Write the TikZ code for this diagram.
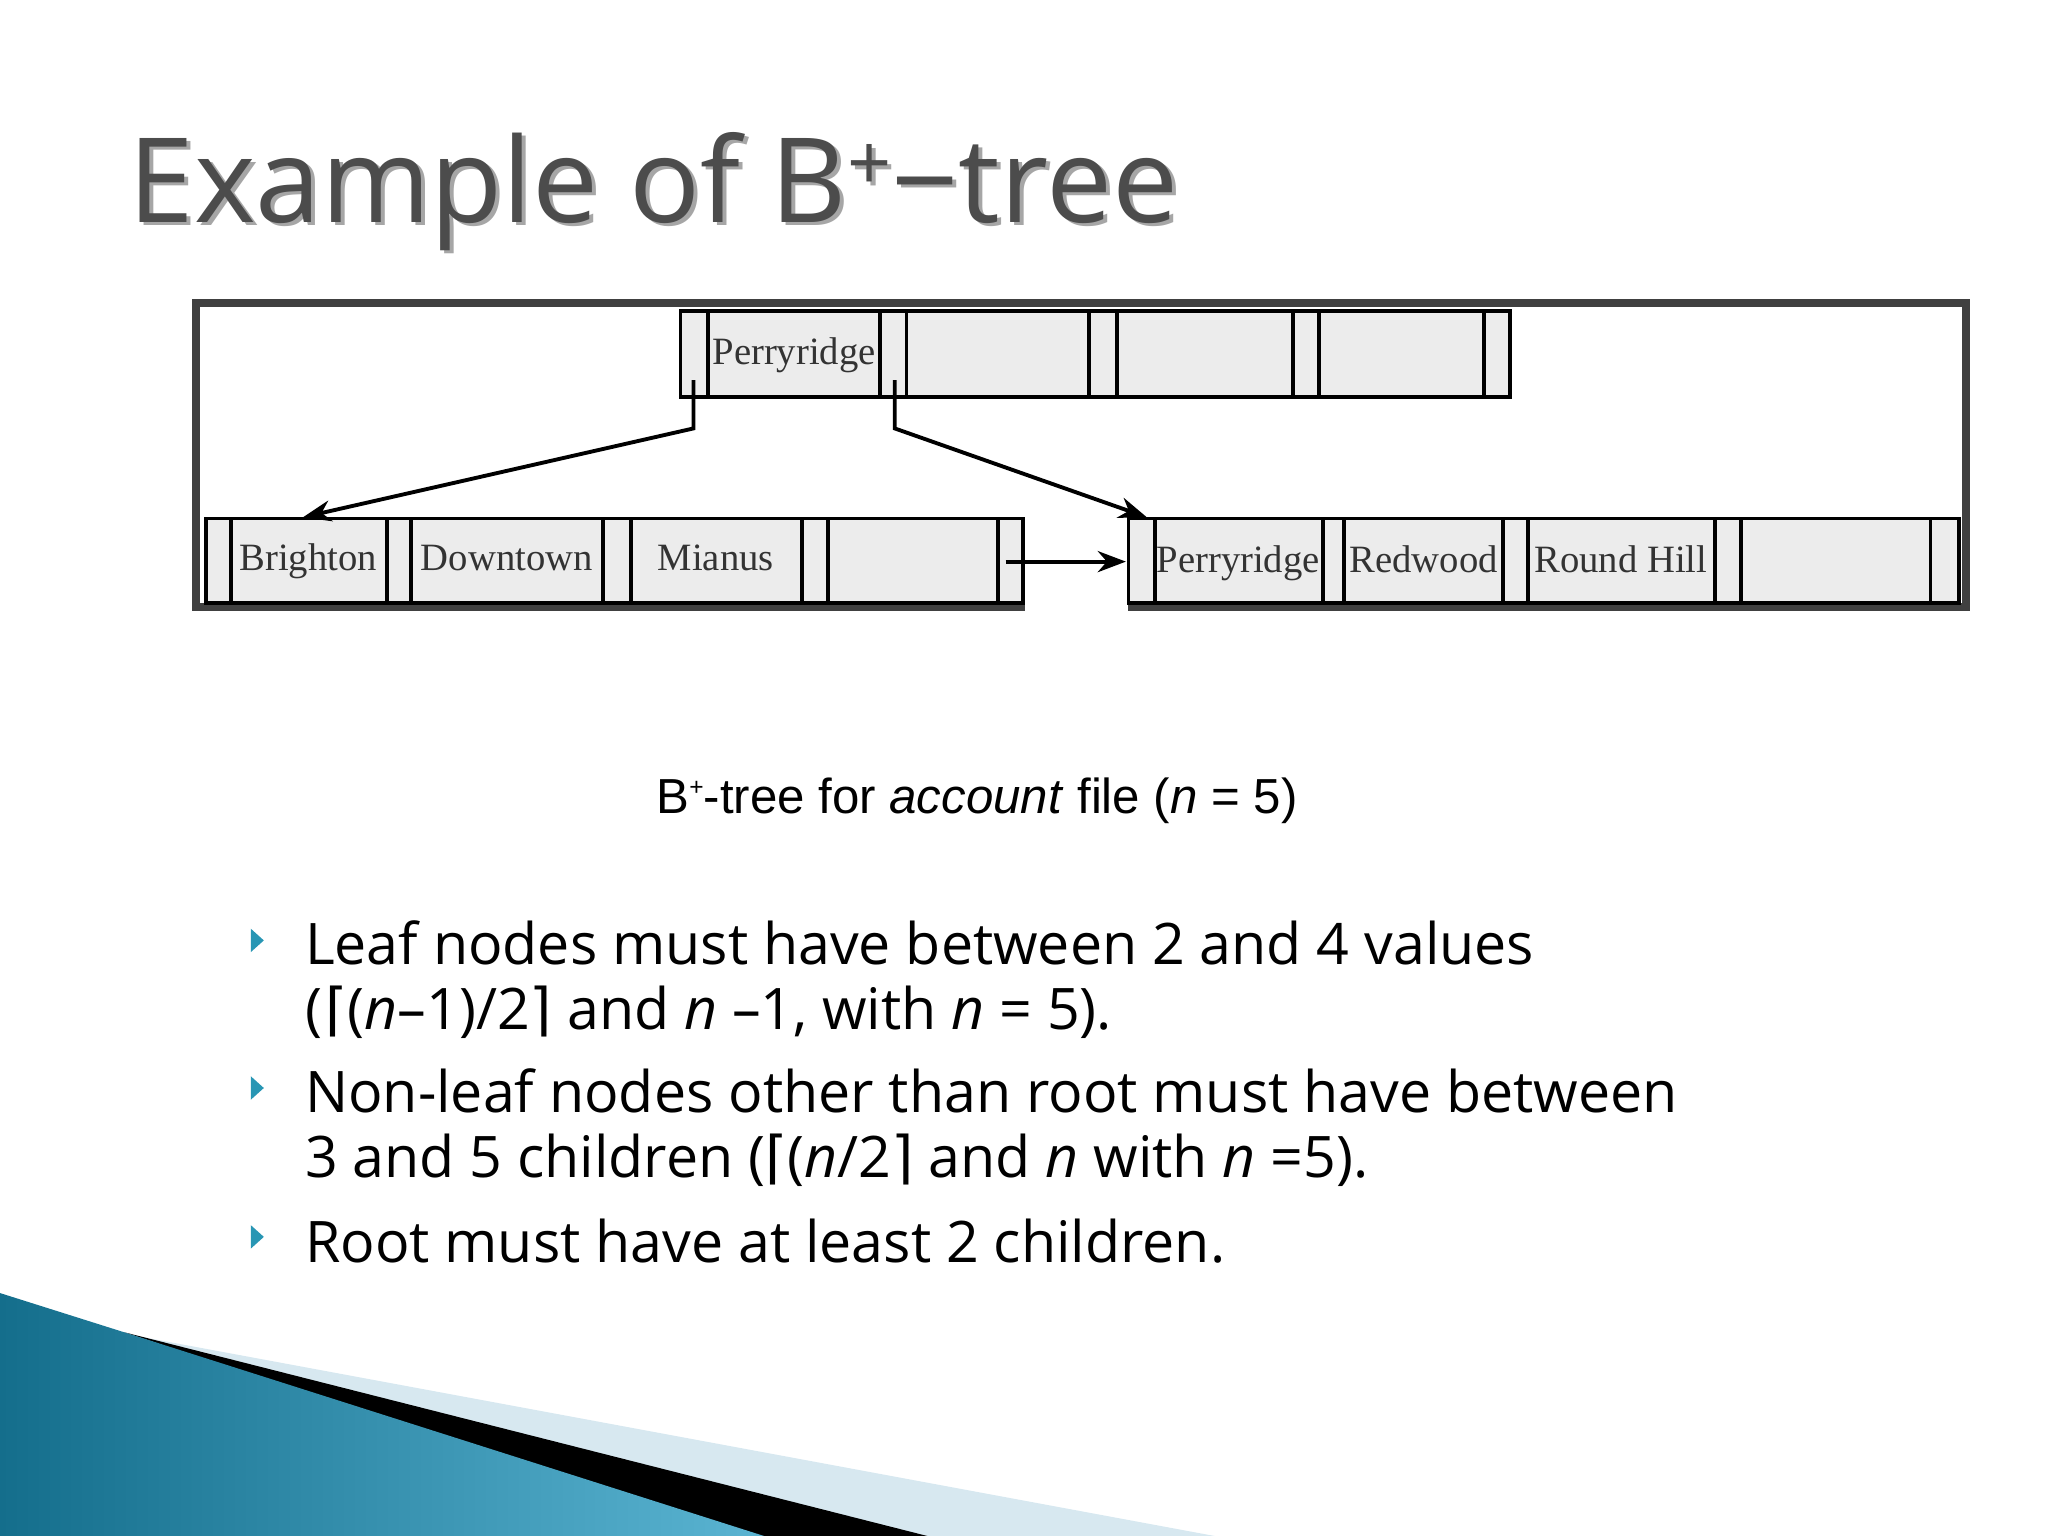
\documentclass[tikz,border=0pt]{standalone}
\usepackage{fontspec}
\setmainfont{Open Sans}
\newfontfamily\tfont{Liberation Serif}
\newfontfamily\cfont{Liberation Sans}
\newfontfamily\djv{DejaVu Sans}
\usetikzlibrary{arrows.meta}
\definecolor{teal1}{RGB}{20,110,140}
\definecolor{teal2}{RGB}{90,180,210}
\definecolor{lblue}{RGB}{215,232,240}
\definecolor{bul}{RGB}{40,150,180}
\begin{document}
\begin{tikzpicture}[x=0.013061cm,y=-0.013061cm,
  cellbox/.style={draw=black,fill=gray!15,line width=1.1pt},
  key/.style={anchor=base,font=\tfont\fontsize{11}{12}\selectfont,text=black!80,inner sep=0pt},
  bl/.style={anchor=west,font=\fontsize{16.3}{19}\selectfont,inner sep=0pt},
  arr/.style={line width=1.1pt,-{Stealth[length=8pt,width=6pt]}},
  ttl/.style={anchor=base west,inner sep=0pt,font=\fontsize{33.5}{36}\selectfont}]
\useasboundingbox (0,0) rectangle (1568,1176);
% title
\node[ttl,text=black!35] at (101,173) {Example of B\raisebox{0.5ex}{\fontsize{22}{22}\selectfont+}−tree};
\node[ttl,text=black!70] (title) at (98,170) {Example of B\raisebox{0.5ex}{\fontsize{22}{22}\selectfont+}−tree};
% frame
\draw[line width=2.2pt,black!75] (864,465) -- (1505,465) -- (1505,232) -- (150,232) -- (150,465) -- (785,465);
% top node
\foreach \a/\b in {521/542,542/674,674/694,694/834,834/855,855/990,990/1010,1010/1136,1136/1156}
  \draw[cellbox] (\a,238) rectangle (\b,304);
\node[key] (k1) at (608,279) {Perryridge};
% leaves
\foreach \a/\b in {158/177,177/296,296/315,315/462,462/483,483/614,614/634,634/764,764/783,
                   864/884,884/1013,1013/1029,1029/1151,1151/1170,1170/1313,1313/1333,1333/1478,1478/1500}
  \draw[cellbox] (\a,397) rectangle (\b,462);
\node[key] (l1) at (236,437) {Brighton};
\node[key] (l2) at (388,437) {Downtown};
\node[key] (l3) at (548,437) {Mianus};
\node[key] (r1) at (948,438) {Perryridge};
\node[key] (r2) at (1090,438) {Redwood};
\node[key] (r3) at (1241,438) {Round Hill};
\coordinate (p1) at (531,291); \coordinate (p2) at (685,291);
\coordinate (c1) at (232,396); \coordinate (c2) at (878,396);
\coordinate (n1) at (770,430); \coordinate (n2) at (862,430);
\draw[arr] (p1) -- (531,328) -- (c1);
\draw[arr] (p2) -- (685,328) -- (c2);
\draw[arr] (n1) -- (n2);
% caption
\node[font=\cfont\fontsize{14}{16}\selectfont,inner sep=0pt] (cap) at (748,613) {B\raisebox{0.7ex}{\fontsize{7}{7}\selectfont+}-tree for \textit{account} file (\textit{n} = 5)};
% bullets
\foreach \y in {720,833,947} \fill[bul] (192,\y-9) -- (202,\y) -- (192,\y+9) -- cycle;
\node[bl] (b1) at (233,722) {Leaf nodes must have between 2 and 4 values};
\node[bl] (b2) at (233,775) {(\kern1pt{\djv⌈}(\textit{n}–1)/2{\djv⌉} and \textit{n} –1, with \textit{n} = 5).};
\node[bl] (b3) at (233,835) {Non-leaf nodes other than root must have between};
\node[bl] (b4) at (233,888) {3 and 5 children ({\djv⌈}(\textit{n}/2{\djv⌉} and \textit{n} with \textit{n} =5).};
\node[bl] (b5) at (233,950) {Root must have at least 2 children.};
% swoosh
\fill[lblue] (100,1022) -- (930,1176) -- (560,1176) -- cycle;
\fill[black] (95,1020) -- (710,1176) -- (570,1176) -- cycle;
\shade[left color=teal1,right color=teal2] (0,990) -- (95,1020) -- (585,1176) -- (0,1176) -- cycle;
\end{tikzpicture}
\end{document}
